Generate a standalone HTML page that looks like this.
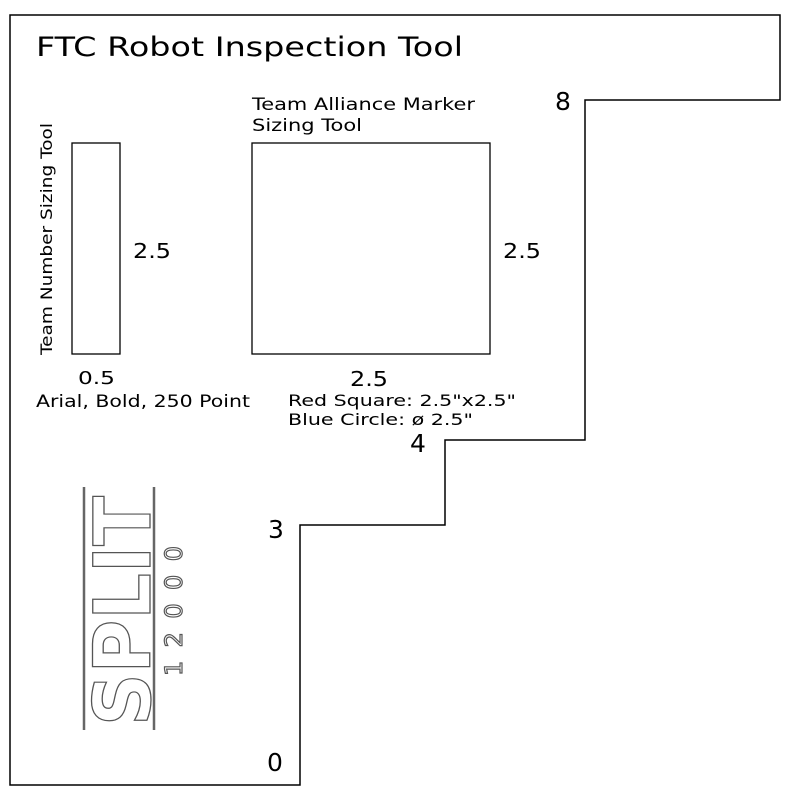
<!DOCTYPE html>
<html><head><style>body{margin:0;background:#fff}svg{display:block}</style></head><body>
<svg width="800" height="800" viewBox="0 0 800 800" font-family="DejaVu Sans, Liberation Sans, sans-serif">
<rect width="800" height="800" fill="#fff"/>
<path d="M10 15 H780 V100 H585 V440 H445 V525 H300 V785 H10 Z" fill="none" stroke="#000" stroke-width="1.5"/>
<text x="36" y="56" font-size="27" textLength="427" lengthAdjust="spacingAndGlyphs">FTC Robot Inspection Tool</text>
<text x="555" y="110" font-size="25">8</text>
<rect x="72" y="143" width="48" height="211" fill="none" stroke="#000" stroke-width="1.3"/>
<text transform="translate(52,355) rotate(-90)" font-size="16" textLength="232" lengthAdjust="spacingAndGlyphs">Team Number Sizing Tool</text>
<text x="133" y="258" font-size="20" textLength="38" lengthAdjust="spacingAndGlyphs">2.5</text>
<text x="78" y="384" font-size="18" textLength="37" lengthAdjust="spacingAndGlyphs">0.5</text>
<text x="36" y="407" font-size="17" textLength="214" lengthAdjust="spacingAndGlyphs">Arial, Bold, 250 Point</text>
<text x="252" y="110" font-size="17" textLength="223" lengthAdjust="spacingAndGlyphs">Team Alliance Marker</text>
<text x="252" y="131" font-size="17" textLength="110" lengthAdjust="spacingAndGlyphs">Sizing Tool</text>
<rect x="252" y="143" width="238" height="211" fill="none" stroke="#000" stroke-width="1.3"/>
<text x="503" y="258" font-size="20" textLength="38" lengthAdjust="spacingAndGlyphs">2.5</text>
<text x="350" y="386" font-size="20" textLength="38" lengthAdjust="spacingAndGlyphs">2.5</text>
<text x="288" y="406" font-size="16" textLength="228" lengthAdjust="spacingAndGlyphs">Red Square: 2.5"x2.5"</text>
<text x="288" y="425" font-size="16" textLength="185" lengthAdjust="spacingAndGlyphs">Blue Circle: ø 2.5"</text>
<text x="410" y="452" font-size="25">4</text>
<text x="268" y="538" font-size="25">3</text>
<text x="267" y="771" font-size="25">0</text>
<line x1="84" y1="487" x2="84" y2="730" stroke="#666" stroke-width="2.5"/>
<line x1="154" y1="487" x2="154" y2="730" stroke="#666" stroke-width="2.5"/>
<text transform="translate(150,726) rotate(-90)" font-size="78" font-weight="bold" textLength="230" lengthAdjust="spacingAndGlyphs" fill="#fff" stroke="#555" stroke-width="1.3">SPLIT</text>
<text transform="translate(182,676) rotate(-90)" font-size="24" textLength="130" lengthAdjust="spacing" fill="#fff" stroke="#555" stroke-width="1.2">12000</text>
</svg>
</body></html>
